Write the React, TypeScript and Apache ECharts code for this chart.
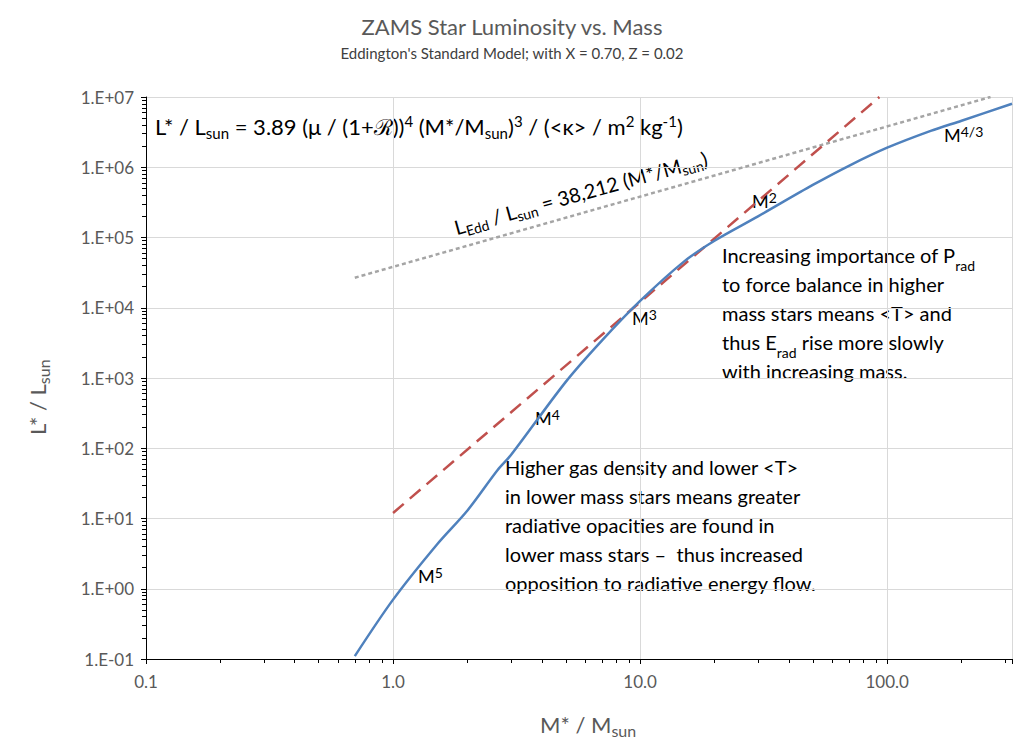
import { useEffect, useRef } from 'react';
import * as echarts from 'echarts';

// ZAMS curve (mass in Msun, luminosity in Lsun)
const zamsMass = [0.7, 1.0, 1.5, 2, 2.65, 3, 5, 7, 10, 15, 20, 30, 50, 70, 100, 150, 200, 320];
const zamsLum = [0.11, 0.7, 4.2, 13, 49, 80, 880, 3400, 12500, 45000, 90000, 200000, 560000, 1050000, 1900000, 3300000, 4600000, 8000000];

// M^3 reference line (red dashed)
const m3Mass = [1, 10, 93];
const m3Lum = [12, 12000, 10000000];

// Eddington limit (grey dotted)
const eddMass = [0.7, 262];
const eddLum = [26748, 10000000];

const FONT = 'Lato, "Open Sans", sans-serif';

export default function App() {
  const chartRef = useRef<HTMLDivElement>(null);

  useEffect(() => {
    document.body.style.margin = '0';
    if (!chartRef.current) return;
    const chart = echarts.init(chartRef.current, undefined, { renderer: 'svg' });

    const sub = { fontSize: 14, verticalAlign: 'bottom', padding: [0, 0, -3, 0], fontFamily: FONT, color: '#000' };
    const sup = { fontSize: 14, verticalAlign: 'top', padding: [-2, 0, 0, 0], fontFamily: FONT, color: '#000' };
    const txt = (x: number, y: number, text: string, size = 20, extra: any = {}) => ({
      type: 'text',
      x,
      y,
      style: { text, fontSize: size, fontFamily: FONT, fill: '#000', ...extra },
    });
    const mLabel = (x: number, y: number, p: string) => ({
      type: 'text', x, y,
      style: { text: `M{p|${p}}`, fontSize: 18, fontFamily: FONT, fill: '#000', rich: { p: sup } },
    });

    const option: echarts.EChartsOption = {
      animation: false,
      backgroundColor: '#fff',
      textStyle: { fontFamily: FONT },
      title: {
        text: 'ZAMS Star Luminosity vs. Mass',
        subtext: "Eddington's Standard Model; with X = 0.70, Z = 0.02",
        left: 'center',
        top: 10,
        itemGap: 8,
        textStyle: { color: '#595959', fontSize: 22, fontWeight: 'normal', fontFamily: FONT },
        subtextStyle: { color: '#404040', fontSize: 15, fontFamily: FONT },
      },
      grid: { left: 146, right: 12, top: 97, bottom: 93 },
      xAxis: {
        type: 'log',
        logBase: 10,
        min: 0.1,
        max: 320,
        axisLine: { lineStyle: { color: '#000' } },
        axisTick: { show: true, lineStyle: { color: '#000' } },
        minorTick: { show: true, splitNumber: 9, length: 4, lineStyle: { color: '#000' } },
        axisLabel: {
          color: '#595959',
          fontSize: 17,
          margin: 14,
          showMaxLabel: false,
          formatter: (v: number) => v.toFixed(1),
        },
        splitLine: { show: true, lineStyle: { color: '#d9d9d9' } },
      },
      yAxis: {
        type: 'log',
        logBase: 10,
        min: 0.1,
        max: 10000000,
        axisLine: { show: true, lineStyle: { color: '#000' } },
        axisTick: { show: true, lineStyle: { color: '#000' } },
        minorTick: { show: true, splitNumber: 9, length: 4, lineStyle: { color: '#000' } },
        axisLabel: {
          color: '#595959',
          fontSize: 17,
          margin: 12,
          formatter: (v: number) => {
            const e = Math.round(Math.log10(v));
            return '1.E' + (e < 0 ? '-' : '+') + String(Math.abs(e)).padStart(2, '0');
          },
        },
        splitLine: { show: true, lineStyle: { color: '#d9d9d9' } },
      },
      series: [
        {
          type: 'line',
          data: eddMass.map((m, i) => [m, eddLum[i]]),
          symbol: 'none',
          lineStyle: { color: '#a5a5a5', width: 2.5, type: [4, 3] },
        },
        {
          type: 'line',
          data: m3Mass.map((m, i) => [m, m3Lum[i]]),
          symbol: 'none',
          lineStyle: { color: '#c0504d', width: 2.5, type: [14, 8] },
        },
        {
          type: 'line',
          data: zamsMass.map((m, i) => [m, zamsLum[i]]),
          symbol: 'none',
          smooth: 0.3,
          lineStyle: { color: '#4f81bd', width: 2.5 },
        },
      ],
      graphic: [
        {
          type: 'text',
          x: 155,
          y: 115,
          style: {
            text: 'L* / L{s|sun} = 3.89 (μ / (1+ℛ)){p|4} (M*/M{s|sun}){p|3} / (<κ> / m{p|2} kg{p|-1})',
            fontSize: 22,
            fontFamily: FONT,
            fill: '#000',
            rich: { s: { ...sub, fontSize: 15 }, p: { ...sup, fontSize: 15 } },
          },
        },
        {
          type: 'text',
          x: 452,
          y: 218,
          rotation: (15.5 * Math.PI) / 180,
          style: {
            text: 'L{s|Edd} / L{s|sun} = 38,212 (M*/M{s|sun})',
            fontSize: 20,
            fontFamily: FONT,
            fill: '#000',
            rich: { s: sub },
          },
        },
        {
          type: 'text',
          x: 722,
          y: 240,
          style: {
            text: 'Increasing importance of P{s|rad}\nto force balance in higher\nmass stars means <T> and\nthus E{s|rad} rise more slowly\nwith increasing mass.',
            fontSize: 20,
            lineHeight: 29,
            fontFamily: FONT,
            fill: '#000',
            rich: { s: { ...sub, lineHeight: 22 } },
          },
        },
        txt(505, 452, 'Higher gas density and lower <T>\nin lower mass stars means greater\nradiative opacities are found in\nlower mass stars –  thus increased\nopposition to radiative energy flow.', 20, { lineHeight: 29 }),
        mLabel(944, 126, '4/3'),
        mLabel(752, 192, '2'),
        mLabel(632, 309, '3'),
        mLabel(535, 409, '4'),
        mLabel(418, 567, '5'),
        {
          type: 'text', x: 540, y: 713,
          style: {
            text: 'M* / M{s|sun}', fontSize: 22, fontFamily: FONT, fill: '#595959',
            rich: { s: { ...sub, fontSize: 16, color: '#595959' } },
          },
        },
        {
          type: 'text', x: 26, y: 435, rotation: Math.PI / 2,
          style: {
            text: 'L* / L{s|sun}', fontSize: 22, fontFamily: FONT, fill: '#595959',
            rich: { s: { ...sub, fontSize: 16, color: '#595959' } },
          },
        },
      ] as any,
    };

    chart.setOption(option);
    return () => chart.dispose();
  }, []);

  return <div ref={chartRef} style={{ width: 1024, height: 752 }} />;
}
